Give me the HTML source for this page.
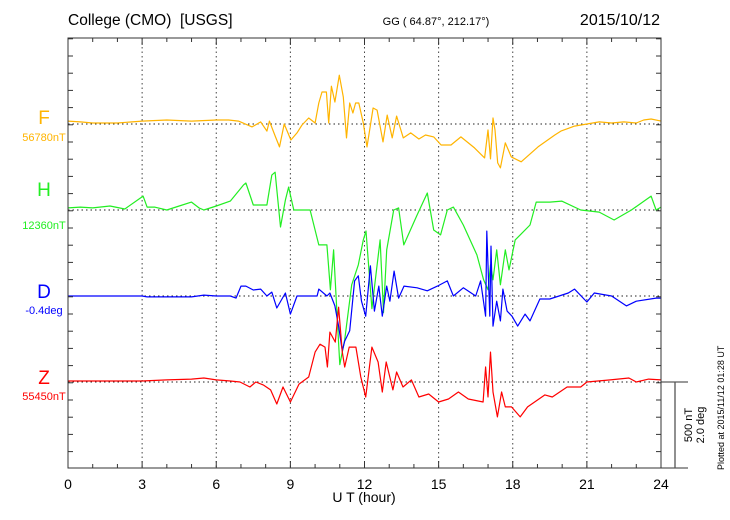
<!DOCTYPE html>
<html><head><meta charset="utf-8">
<style>
html,body{margin:0;padding:0;background:#fff;}
svg{display:block;font-family:"Liberation Sans",sans-serif;}
</style></head>
<body>
<svg id="chart" width="730" height="520" viewBox="0 0 730 520">
  <text x="68" y="25" font-size="15.5" style="white-space:pre">College (CMO)  [USGS]</text>
  <text x="436" y="25" font-size="11" text-anchor="middle">GG ( 64.87°, 212.17°)</text>
  <text x="660" y="25" font-size="16" text-anchor="end">2015/10/12</text>

  <text x="44" y="124" font-size="19" fill="#ffb400" text-anchor="middle">F</text>
  <text x="44" y="141" font-size="11" fill="#ffb400" text-anchor="middle">56780nT</text>
  <text x="44" y="196" font-size="19" fill="#22ee22" text-anchor="middle">H</text>
  <text x="44" y="229" font-size="11" fill="#22ee22" text-anchor="middle">12360nT</text>
  <text x="44" y="298" font-size="19" fill="#0000ff" text-anchor="middle">D</text>
  <text x="44" y="314" font-size="11" fill="#0000ff" text-anchor="middle">-0.4deg</text>
  <text x="44" y="384" font-size="19" fill="#ff0000" text-anchor="middle">Z</text>
  <text x="44" y="400" font-size="11" fill="#ff0000" text-anchor="middle">55450nT</text>

  <text x="364" y="502" font-size="14" text-anchor="middle">U T (hour)</text>
  <text transform="translate(692,425) rotate(-90)" font-size="11" text-anchor="middle">500 nT</text>
  <text transform="translate(704,425) rotate(-90)" font-size="11" text-anchor="middle">2.0 deg</text>
  <text transform="translate(724,470) rotate(-90)" font-size="9" text-anchor="start">Plotted at 2015/11/12 01:28 UT</text>
  <g id="grid"></g>
  <g id="series"></g>
  <g id="frame"></g>
</svg>
<script>
const hourTicks = [0,3,6,9,12,15,18,21,24];
const fTimes = [0,0.5,1,1.5,2,3,4,5,6,6.5,6.9,7.45,7.8,8.05,8.15,8.4,8.56,8.75,9.02,9.27,9.47,9.74,10.0,10.15,10.28,10.46,10.55,10.66,10.8,10.98,11.14,11.27,11.4,11.53,11.64,11.77,11.95,12.1,12.35,12.51,12.75,12.92,13.12,13.3,13.57,13.87,14.2,14.47,14.8,15.1,15.5,15.9,16.45,16.86,17.0,17.1,17.2,17.28,17.39,17.5,17.7,17.94,18.34,19.02,19.7,19.95,20.5,21,21.5,22,22.5,23,23.3,23.6,24];
const fValues = [17,12,6,6,6,17,23,17,23,23,17,-17,12,-41,17,-75,-133,0,-93,-52,-6,35,6,122,186,186,6,220,128,284,157,-81,122,64,122,122,6,-133,93,81,-104,52,-81,46,-81,-52,-87,-64,-75,-122,-122,-75,-139,-197,-35,-203,35,-35,-226,-255,-110,-191,-220,-133,-64,-41,-12,0,12,6,12,6,23,29,17];
const hTimes = [0,0.5,1,1.7,2.3,3.04,3.2,3.5,4,4.5,5,5.3,5.5,6,6.57,7.1,7.2,7.5,8.05,8.25,8.38,8.6,8.8,8.93,9.14,9.48,9.8,10.15,10.48,10.62,10.75,10.9,11.0,11.2,11.48,11.75,11.95,12.06,12.3,12.63,12.77,12.9,13.18,13.38,13.59,14.13,14.54,14.8,15.08,15.35,15.6,16.0,16.55,16.82,17.0,17.1,17.2,17.35,17.5,17.7,17.85,18.1,18.3,18.7,18.95,19.5,19.98,20.75,21.5,22.1,22.8,23.6,23.8,24];
const hValues = [12,17,12,23,6,81,17,17,0,23,46,12,0,23,52,145,157,29,29,203,220,-99,58,133,0,0,0,-203,-203,-464,-232,-638,-899,-754,-435,-319,-174,-122,-574,-174,-597,-232,0,12,-203,-29,99,-116,-145,0,17,-87,-261,-406,-464,-319,-406,-232,-435,-232,-348,-174,-145,-87,46,46,52,0,-12,-58,0,81,0,17];
const dTimes = [0,1,2,3,3.2,4,5,5.5,6,6.57,6.8,7.0,7.2,7.5,7.8,8.05,8.25,8.45,8.8,9.0,9.27,10.08,10.15,10.48,10.6,10.8,10.95,11.1,11.2,11.4,11.6,11.75,11.88,12.05,12.24,12.4,12.58,12.72,12.9,13.03,13.2,13.38,13.6,14.13,14.54,14.95,15.35,15.6,16.0,16.5,16.7,16.9,16.95,17.07,17.12,17.2,17.35,17.5,17.6,17.77,17.97,18.2,18.5,18.7,19.1,19.5,20.25,20.5,21.0,21.3,22.0,22.6,23.0,23.8,24];
const dValues = [0,0,0,0,-0.02,-0.02,-0.02,0.02,0,0,-0.05,0.23,0.23,0.14,0.16,0,0.09,-0.28,0.07,-0.42,0,0,0.16,0,0.07,-0.23,-0.7,-1.28,-1.05,-0.81,0.35,0.47,-0.12,-0.47,0.7,-0.35,0.23,-0.47,0.23,-0.12,0.58,-0.05,0.23,0.19,0.12,0.23,0.35,0,0.19,0,0.35,-0.47,1.51,-0.47,1.16,-0.7,-0.12,-0.58,0.16,-0.35,-0.47,-0.7,-0.42,-0.58,-0.07,-0.07,0.07,0.16,-0.14,0.07,0,-0.23,-0.12,-0.05,-0.05];
const zTimes = [0,1,2,3,4,5,5.5,6,6.57,6.96,7.36,7.6,7.9,8.2,8.45,8.7,9.0,9.35,9.74,10.0,10.2,10.4,10.5,10.6,10.82,10.95,11.1,11.2,11.38,11.65,11.85,12.05,12.3,12.55,12.72,12.88,13.15,13.3,13.56,13.9,14.2,14.6,15.0,15.4,15.8,16.2,16.8,16.9,17.0,17.1,17.2,17.38,17.55,17.7,17.95,18.3,18.6,19.3,19.6,20.2,20.75,21.0,21.95,22.7,23.0,23.5,24];
const zValues = [6,6,6,6,12,17,23,12,6,0,-29,0,-17,-46,-128,-29,-116,-12,29,174,220,203,87,290,232,435,174,87,203,203,29,-87,203,116,-58,116,-46,58,-29,12,-87,-70,-116,-99,-58,-99,-116,87,-87,174,-58,-203,-58,-145,-145,-203,-145,-75,-87,-29,-29,0,12,23,0,17,12];

const NS='http://www.w3.org/2000/svg';
const L=68,R=661,T=38,B=468;
const panel=86;
const xOf=h=>L+(R-L)*h/24;
const ntScale=panel/500, degScale=panel/2.0;
const baselines={F:124,H:210,D:296,Z:382};
function mk(tag,attrs,parent){const e=document.createElementNS(NS,tag);for(const k in attrs)e.setAttribute(k,attrs[k]);parent.appendChild(e);return e;}
const grid=document.getElementById('grid'),frame=document.getElementById('frame'),ser=document.getElementById('series'),svg=document.getElementById('chart');

hourTicks.forEach(h=>{
  if(h>0&&h<24){const g=mk('line',{x1:xOf(h),x2:xOf(h),y1:T,y2:B,stroke:'#444','stroke-width':1,'stroke-dasharray':'1.5,3'},grid);
  
  }
  const t=mk('text',{x:xOf(h),y:489,'font-size':14,'text-anchor':'middle'},svg);
  t.textContent=h;
  
  
});
Object.keys(baselines).forEach(k=>{
  const g=mk('line',{x1:L,x2:R,y1:baselines[k],y2:baselines[k],stroke:'#222','stroke-width':1,'stroke-dasharray':'1.5,3'},grid);
  
  
});
const fr=mk('rect',{x:L,y:T,width:R-L,height:B-T,fill:'none',stroke:'#333','stroke-width':1},frame);


for(let h=1;h<24;h++){
  const len=h%3===0?7:4;
  mk('line',{x1:xOf(h),x2:xOf(h),y1:T,y2:T+len,stroke:'#333'},frame);
  mk('line',{x1:xOf(h),x2:xOf(h),y1:B,y2:B-len,stroke:'#333'},frame);
}
for(let y=T+0.8;y<B;y+=panel/5){
  mk('line',{x1:L,x2:L+5,y1:y,y2:y,stroke:'#333'},frame);
  mk('line',{x1:R,x2:R-5,y1:y,y2:y,stroke:'#333'},frame);
}
mk('line',{x1:R,x2:688,y1:382,y2:382,stroke:'#333'},frame);
mk('line',{x1:R,x2:688,y1:B,y2:B,stroke:'#333'},frame);
const sb=mk('line',{x1:675,x2:675,y1:382,y2:B,stroke:'#555','stroke-width':1.3},frame);



function draw(times,vals,base,scale,color,name){
  const pts=times.map((t,i)=>xOf(t).toFixed(1)+','+(base-vals[i]*scale).toFixed(1)).join(' ');
  const p=mk('polyline',{points:pts,fill:'none',stroke:color,'stroke-width':1.2,'stroke-linejoin':'round'},ser);
  
  
}
draw(fTimes,fValues,baselines.F,ntScale,'#ffb400','f-series');
draw(hTimes,hValues,baselines.H,ntScale,'#22ee22','h-series');
draw(dTimes,dValues,baselines.D,degScale,'#0000ff','d-series');
draw(zTimes,zValues,baselines.Z,ntScale,'#ff0000','z-series');
</script>
</body></html>
